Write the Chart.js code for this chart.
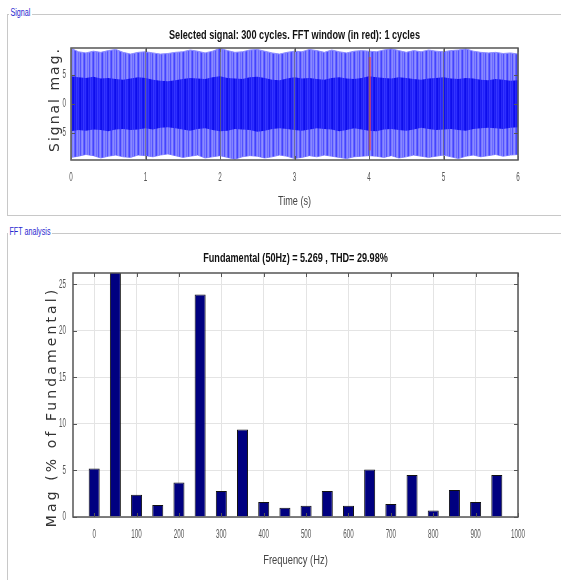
<!DOCTYPE html>
<html>
<head>
<meta charset="utf-8">
<script src="https://cdn.jsdelivr.net/npm/chart.js@4/dist/chart.umd.min.js"></script>
<style>
  html, body { margin: 0; padding: 0; background: #fff; width: 561px; height: 580px; overflow: hidden; }
  .panel { position: absolute; border-top: 1px solid #c8c8c8; border-left: 1px solid #c8c8c8; }
  .plabel { position: absolute; background: #fff; color: #2a2ad0; font: 10px 'Liberation Sans', Arial, sans-serif; padding: 0 2px; transform-origin: 0 50%; transform: scaleX(0.72); white-space: nowrap; }
  .box { position: absolute; }
</style>
</head>
<body>
<div class="panel" style="left:7px; top:14px; width:560px; height:200px; border-bottom:1px solid #c8c8c8;"></div>
<div class="plabel" style="left:9px; top:7px;">Signal</div>
<div class="panel" style="left:7px; top:233px; width:560px; height:360px;"></div>
<div class="plabel" style="left:8px; top:226px;">FFT analysis</div>

<div class="box" style="left:0; top:20px; width:561px; height:190px;"><canvas id="sig"></canvas></div>
<div class="box" style="left:0; top:240px; width:561px; height:335px;"><canvas id="fft"></canvas></div>

<script>
// ---------------- DATA ----------------
const timeS = [0,0.1,0.2,0.3,0.4,0.5,0.6,0.7,0.8,0.9,1,1.1,1.2,1.3,1.4,1.5,1.6,1.7,1.8,1.9,2,2.1,2.2,2.3,2.4,2.5,2.6,2.7,2.8,2.9,3,3.1,3.2,3.3,3.4,3.5,3.6,3.7,3.8,3.9,4,4.1,4.2,4.3,4.4,4.5,4.6,4.7,4.8,4.9,5,5.1,5.2,5.3,5.4,5.5,5.6,5.7,5.8,5.9,6];
const envelopeUpper = [9.6,9.0,8.8,9.1,8.9,9.2,9.4,8.9,8.6,8.9,9.0,8.8,8.6,8.7,8.9,9.0,9.3,9.1,8.8,9.1,9.6,9.2,8.9,9.0,9.3,9.4,9.1,8.8,8.6,8.9,9.1,9.0,9.4,9.2,8.9,9.3,9.0,8.8,9.1,9.2,9.1,9.0,9.3,9.5,9.2,8.9,9.2,9.0,9.3,9.1,9.0,9.2,9.3,9.5,9.1,8.9,8.8,8.9,8.7,8.8,8.6];
const envelopeLower = [-9.2,-9.0,-8.7,-8.9,-9.3,-9.0,-8.8,-9.1,-9.2,-8.8,-8.9,-9.1,-8.8,-8.6,-8.9,-9.2,-9.0,-8.8,-9.3,-9.1,-8.9,-9.2,-9.5,-9.1,-8.9,-9.0,-9.3,-9.1,-8.8,-9.0,-9.4,-9.2,-8.9,-9.1,-8.8,-9.0,-9.2,-9.4,-9.1,-9.0,-8.9,-9.0,-9.2,-8.9,-9.3,-9.1,-8.8,-9.0,-9.2,-9.0,-8.8,-9.1,-9.4,-9.0,-8.8,-9.1,-8.9,-8.7,-9.0,-8.8,-8.7];
const coreUpper = [4.8,4.6,4.5,4.7,4.4,4.5,4.3,4.2,4.4,4.6,4.5,4.2,4.0,3.9,4.1,4.3,4.5,4.4,4.3,4.6,4.8,4.5,4.4,4.3,4.6,4.7,4.5,4.2,4.1,4.4,4.6,4.4,4.5,4.3,4.2,4.5,4.6,4.4,4.3,4.5,4.8,4.6,4.5,4.4,4.6,4.5,4.3,4.2,4.4,4.5,4.6,4.4,4.3,4.5,4.4,4.2,4.1,4.3,4.2,4.0,4.1];
const coreLower = [-4.7,-4.5,-4.6,-4.4,-4.5,-4.7,-4.4,-4.3,-4.5,-4.4,-4.2,-4.4,-4.1,-4.0,-4.2,-4.4,-4.6,-4.3,-4.2,-4.5,-4.7,-4.6,-4.3,-4.4,-4.5,-4.8,-4.6,-4.3,-4.2,-4.3,-4.5,-4.6,-4.4,-4.2,-4.3,-4.4,-4.7,-4.5,-4.2,-4.4,-4.6,-4.7,-4.4,-4.3,-4.5,-4.6,-4.4,-4.1,-4.3,-4.5,-4.4,-4.3,-4.5,-4.6,-4.3,-4.2,-4.1,-4.2,-4.3,-4.1,-4.0];
const fftWindowTime = [4.01, 4.01];
const fftWindowRange = [-8.0, 8.1];
const timeTicks = [0,1,2,3,4,5,6];
const signalTicks = [-5,0,5];

const freqHz = [0,50,100,150,200,250,300,350,400,450,500,550,600,650,700,750,800,850,900,950];
const magPct = [5.2,100,2.4,1.3,3.7,23.9,2.8,9.4,1.6,1.0,1.2,2.8,1.2,5.1,1.4,4.5,0.7,2.9,1.6,4.5];
const freqTicks = [0,100,200,300,400,500,600,700,800,900,1000];
const magTicks = [0,5,10,15,20,25];

const sigTitle = 'Selected signal: 300 cycles. FFT window (in red): 1 cycles';
const fftTitle = 'Fundamental (50Hz) = 5.269 , THD= 29.98%';

// ---------------- STYLE ----------------
const ARIAL = "'Liberation Sans', Arial, sans-serif";
const WIDE = "'DejaVu Sans', 'Liberation Sans', sans-serif";

function stripePattern(cols) {
  const c = document.createElement('canvas');
  c.width = cols.length; c.height = 4;
  const x = c.getContext('2d');
  cols.forEach((col, i) => { x.fillStyle = col; x.fillRect(i, 0, 1, 4); });
  return x.createPattern(c, 'repeat');
}
const outerFill = stripePattern(['#8080ff','#9090ff','#6262ff','#4444ff','#7878ff','#8a8aff','#6c6cff','#8484ff','#5252ff']);
const coreFill = stripePattern(['#2424fa','#2e2eff','#1616f2','#0e0eec','#2626f8','#1c1cf4','#3636ff']);

// text drawn by a wrapped method gets letter spacing, horizontal condensing and a small shift along the text
function wrapText(obj, name, cfg) {
  if (!obj || !cfg || obj['_w_' + name]) return;
  const orig = obj[name];
  obj[name] = function (...a) {
    const c = this.ctx;
    c.save();
    c.letterSpacing = cfg.sp || '0px';
    const sx = cfg.sx || 1, dx = cfg.dx || 0;
    const of = CanvasRenderingContext2D.prototype.fillText;
    c.fillText = function (t, x, y) { this.save(); this.translate(x + dx, y); this.scale(sx, 1); of.call(this, t, 0, 0); this.restore(); };
    try { return orig.apply(this, a); }
    finally { delete c.fillText; c.restore(); }
  };
  obj['_w_' + name] = true;
}
const textPlugin = {
  id: 'textstyle',
  beforeDraw(chart, args, opts) {
    wrapText(chart.scales.x, 'drawLabels', opts.tick);
    wrapText(chart.scales.y, 'drawLabels', opts.tick);
    wrapText(chart.scales.x, 'drawTitle', opts.xTitle);
    wrapText(chart.scales.y, 'drawTitle', opts.yTitle);
    wrapText(chart.titleBlock, 'draw', opts.title);
  }
};
const framePlugin = {
  id: 'frame',
  afterDatasetsDraw(chart, args, opts) {
    const { ctx, chartArea: a, scales } = chart;
    ctx.save();
    ctx.strokeStyle = opts.color; ctx.lineWidth = 1;
    ctx.beginPath();
    scales.x.ticks.forEach(t => {
      const px = Math.round(scales.x.getPixelForValue(t.value)) + 0.5;
      ctx.moveTo(px, a.bottom); ctx.lineTo(px, a.bottom - 4);
      ctx.moveTo(px, a.top); ctx.lineTo(px, a.top + 4);
    });
    scales.y.ticks.forEach(t => {
      const py = Math.round(scales.y.getPixelForValue(t.value)) + 0.5;
      ctx.moveTo(a.left, py); ctx.lineTo(a.left + 4, py);
      ctx.moveTo(a.right, py); ctx.lineTo(a.right - 4, py);
    });
    ctx.stroke();
    ctx.lineWidth = opts.width;
    ctx.strokeRect(a.left, a.top, a.right - a.left, a.bottom - a.top);
    ctx.restore();
  }
};
const keepTicks = list => scale => { scale.ticks = list.map(v => ({ value: v })); };
const plain = v => String(v);

// ---------------- SIGNAL CHART ----------------
const pts = arr => timeS.map((t, i) => ({ x: t, y: arr[i] }));
new Chart(document.getElementById('sig'), {
  type: 'line',
  data: {
    datasets: [
      { data: fftWindowTime.map((t, i) => ({ x: t, y: fftWindowRange[i] })), borderColor: 'rgba(255,60,60,0.8)', borderWidth: 2, pointRadius: 0, fill: false },
      { data: pts(coreUpper), borderWidth: 0, borderColor: 'rgba(0,0,0,0)', backgroundColor: coreFill, pointRadius: 0, fill: '+1' },
      { data: pts(coreLower), borderWidth: 0, borderColor: 'rgba(0,0,0,0)', pointRadius: 0, fill: false },
      { data: pts(envelopeUpper), borderWidth: 1, borderColor: '#8c8cff', backgroundColor: outerFill, pointRadius: 0, fill: '+1' },
      { data: pts(envelopeLower), borderWidth: 1, borderColor: '#8c8cff', pointRadius: 0, fill: false }
    ]
  },
  options: {
    responsive: true, maintainAspectRatio: false, animation: false,
    layout: { padding: { left: 0, right: 43, top: 0, bottom: 0 } },
    plugins: {
      legend: { display: false }, tooltip: { enabled: false },
      title: { display: true, text: sigTitle, fullSize: false, color: '#111', font: { family: ARIAL, size: 13, weight: 'bold', lineHeight: 1.2 }, padding: { top: 7.2, bottom: 5.2 } },
      textstyle: { tick: { sx: 0.5 }, xTitle: { sx: 0.7 }, yTitle: { sp: '2px', dx: 4.5 }, title: { sx: 0.705 } },
      frame: { color: '#555', width: 1.5 }
    },
    scales: {
      x: {
        type: 'linear', min: 0, max: 6,
        afterBuildTicks: keepTicks(timeTicks),
        afterFit: s => { s.height = 50; },
        grid: { display: true, color: 'rgba(110,110,110,0.7)', drawTicks: false, z: 1 },
        border: { display: false },
        ticks: { padding: 10.5, color: '#555', font: { family: ARIAL, size: 12.5 }, maxRotation: 0, callback: plain },
        title: { display: true, text: 'Time (s)', color: '#444', font: { family: ARIAL, size: 13, lineHeight: 1.2 }, padding: { top: 0, bottom: 0.5 } }
      },
      y: {
        type: 'linear', min: -9.65, max: 9.65,
        afterBuildTicks: keepTicks(signalTicks),
        afterFit: s => { s.width = 71; },
        grid: { display: false, drawTicks: false },
        border: { display: false },
        ticks: { padding: 5, color: '#555', font: { family: ARIAL, size: 12.5 }, callback: plain },
        title: { display: true, text: 'Signal mag.', color: '#333', font: { family: WIDE, size: 14, lineHeight: 1.2 }, padding: { top: 46.8, bottom: 0 } }
      }
    }
  },
  plugins: [textPlugin, framePlugin]
});

// ---------------- FFT CHART ----------------
new Chart(document.getElementById('fft'), {
  type: 'bar',
  data: {
    datasets: [{
      data: freqHz.map((f, i) => ({ x: f, y: magPct[i] })),
      backgroundColor: '#000080', borderColor: '#111', borderWidth: 1,
      barPercentage: 0.52, categoryPercentage: 1
    }]
  },
  options: {
    responsive: true, maintainAspectRatio: false, animation: false,
    layout: { padding: { left: 0, right: 43, top: 0, bottom: 0 } },
    plugins: {
      legend: { display: false }, tooltip: { enabled: false },
      title: { display: true, text: fftTitle, fullSize: false, color: '#111', font: { family: ARIAL, size: 13, weight: 'bold', lineHeight: 1.2 }, padding: { top: 10.2, bottom: 7.2 } },
      textstyle: { tick: { sx: 0.5 }, xTitle: { sx: 0.72 }, yTitle: { sp: '3.1px', dx: -12 }, title: { sx: 0.7 } },
      frame: { color: '#555', width: 1.5 }
    },
    scales: {
      x: {
        type: 'linear', min: -50, max: 1000, offset: false,
        afterBuildTicks: keepTicks(freqTicks),
        afterFit: s => { s.height = 58; },
        grid: { display: true, color: '#e4e4e4', drawTicks: false, offset: false },
        border: { display: false },
        ticks: { padding: 10.5, color: '#555', font: { family: ARIAL, size: 12.5 }, maxRotation: 0, callback: plain },
        title: { display: true, text: 'Frequency (Hz)', color: '#444', font: { family: ARIAL, size: 13, lineHeight: 1.2 }, padding: { top: 0, bottom: 6.5 } }
      },
      y: {
        type: 'linear', min: 0, max: 26.2,
        afterBuildTicks: keepTicks(magTicks),
        afterFit: s => { s.width = 73; },
        grid: { display: true, color: '#e4e4e4', drawTicks: false },
        border: { display: false },
        ticks: { padding: 7, color: '#555', font: { family: ARIAL, size: 12.5 }, callback: plain },
        title: { display: true, text: 'Mag (% of Fundamental)', color: '#333', font: { family: WIDE, size: 14, lineHeight: 1.2 }, padding: { top: 43.8, bottom: 0 } }
      }
    }
  },
  plugins: [textPlugin, framePlugin]
});
</script>
</body>
</html>
